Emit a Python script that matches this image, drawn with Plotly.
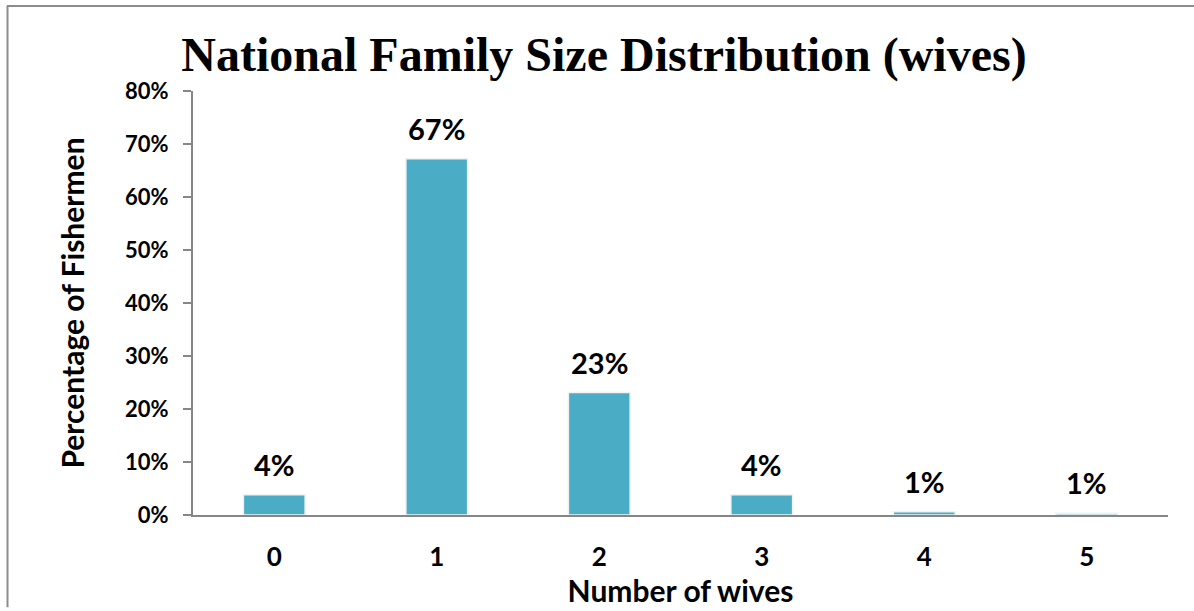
import plotly.graph_objects as go

categories = ["0", "1", "2", "3", "4", "5"]
values = [3.8, 67.2, 23.1, 3.8, 0.6, 0.35]
labels = ["4%", "67%", "23%", "4%", "1%", "1%"]
tick_vals = [0, 10, 20, 30, 40, 50, 60, 70, 80]
tick_text = ["0%", "10%", "20%", "30%", "40%", "50%", "60%", "70%", "80%"]

W, H = 1194, 611
L, R, T, B = 193, 26, 91, 93
pw, ph = W - L - R, H - T - B

font_sans = "Lato, 'Open Sans', sans-serif"

fig = go.Figure()
fig.add_trace(go.Bar(
    x=categories, y=values, width=0.38,
    marker=dict(color="#4BACC6", line=dict(color="#f2f2f2", width=1.5)),
    hoverinfo="skip",
))

for c, v, t in zip(categories, values, labels):
    fig.add_annotation(x=c, y=v, text="<b>" + t + "</b>", showarrow=False, yanchor="bottom", yshift=11,
                       font=dict(family=font_sans, size=29, color="#000000"))

def px_x(p):
    return (p - L) / pw

def px_y(p):
    return 1 - (p - T) / ph

shapes = [
    dict(type="line", xref="paper", yref="paper", x0=px_x(7), x1=px_x(1194), y0=px_y(5.5), y1=px_y(5.5),
         line=dict(color="#8c8c8c", width=2)),
    dict(type="line", xref="paper", yref="paper", x0=px_x(7.5), x1=px_x(7.5), y0=px_y(5), y1=px_y(611),
         line=dict(color="#8c8c8c", width=2)),
]

fig.update_layout(
    width=W, height=H,
    margin=dict(l=L, r=R, t=T, b=B),
    paper_bgcolor="white", plot_bgcolor="white",
    showlegend=False,
    bargap=0.62,
    shapes=shapes,
    title=dict(text="<b>National Family Size Distribution (wives)</b>",
               x=(604) / W, xanchor="center", y=1 - 54 / H, yanchor="middle",
               font=dict(family="'Liberation Serif', 'Times New Roman', serif", size=48, color="#000000")),
    xaxis=dict(
        type="category", showline=True, linecolor="#868686", linewidth=2,
        ticks="", showgrid=False, zeroline=False,
        tickfont=dict(family=font_sans, size=26, color="#000000", weight="bold"),
        title=dict(text="<b>Number of wives</b>", standoff=6,
                   font=dict(family=font_sans, size=30, color="#000000")),
        ticklabelstandoff=18,
    ),
    yaxis=dict(
        range=[0, 80], tickvals=tick_vals, ticktext=tick_text,
        showline=True, linecolor="#868686", linewidth=2,
        ticks="outside", ticklen=8, tickcolor="#868686", tickwidth=2,
        showgrid=False, zeroline=False, ticklabelstandoff=10,
        tickfont=dict(family=font_sans, size=22, color="#000000", weight="bold"),
        title=dict(text="<b>Percentage of Fishermen</b>", standoff=32,
                   font=dict(family=font_sans, size=30, color="#000000")),
    ),
)

fig.write_html("out.html", config={"displayModeBar": False},
               post_script="document.body.style.margin='0';document.body.style.padding='0';")
